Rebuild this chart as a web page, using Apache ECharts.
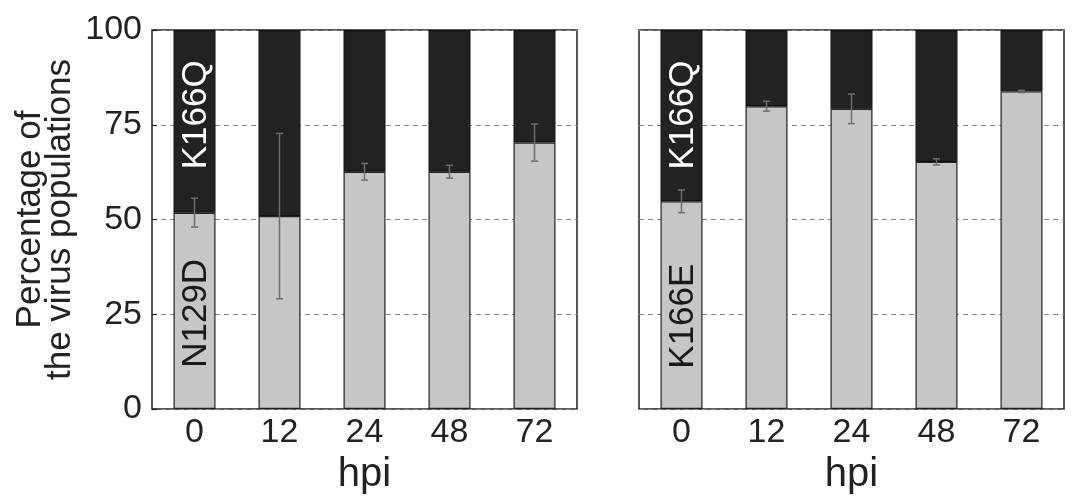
<!DOCTYPE html>
<html><head><meta charset="utf-8">
<script src="https://cdn.jsdelivr.net/npm/echarts@6/dist/echarts.min.js"></script>
<style>html,body{margin:0;padding:0;background:#fff}#c{width:1072px;height:500px}</style>
</head><body><div id="c"></div>
<script>
const categories = ['0', '12', '24', '48', '72'];
const yTicks = [0, 25, 50, 75, 100];
// Left panel: N129D (grey, bottom) vs K166Q (dark, top)
const leftLower = [51.8, 50.9, 62.6, 62.6, 70.3];
const leftErr = [3.8, 21.8, 2.2, 1.7, 4.9];
// Right panel: K166E (grey, bottom) vs K166Q (dark, top)
const rightLower = [54.8, 79.9, 79.2, 65.2, 83.8];
const rightErr = [3.0, 1.3, 3.9, 0.8, 0.3];
const leftLowerName = 'N129D';
const rightLowerName = 'K166E';
const upperName = 'K166Q';

const FONT = '"Liberation Sans", Arial, sans-serif';
const GREY = '#c6c6c6', DARK = '#222222';

function yAxis(idx, showLabels) {
  return {
    type: 'value', gridIndex: idx, min: 0, max: 100, interval: 25,
    axisLine: { show: false },
    axisTick: { show: showLabels, inside: true, length: 5, lineStyle: { color: '#222', width: 1.2 } },
    axisLabel: { show: showLabels, fontSize: 34, color: '#222', fontFamily: FONT, margin: 10,
      formatter: v => yTicks.includes(v) ? String(v) : '' },
    splitLine: { show: true, lineStyle: { color: '#8a8a8a', type: [5, 4], width: 1.2 } },
    name: showLabels ? 'Percentage of\nthe virus populations' : '',
    nameLocation: 'middle', nameGap: 77,
    nameTextStyle: { fontSize: 35, lineHeight: 30, color: '#222', fontFamily: FONT }
  };
}
function xAxis(idx) {
  return {
    type: 'category', gridIndex: idx, data: categories,
    axisLine: { show: false }, axisTick: { show: false },
    axisLabel: { fontSize: 34, color: '#222', fontFamily: FONT, margin: 7 },
    name: 'hpi', nameLocation: 'middle', nameGap: 46,
    nameTextStyle: { fontSize: 40, color: '#222', fontFamily: FONT }
  };
}
function lowerSeries(idx, data, label, off) {
  return {
    type: 'bar', xAxisIndex: idx, yAxisIndex: idx, stack: 's' + idx, barWidth: 42,
    itemStyle: { color: GREY, borderColor: '#222', borderWidth: 1.2 },
    data: data.map((v, i) => i === 0 ? {
      value: v,
      label: { show: true, position: 'inside', rotate: 90, formatter: label, fontSize: 35,
        color: '#1a1a1a', fontFamily: FONT, offset: off }
    } : v)
  };
}
function upperSeries(idx, lower, off) {
  return {
    type: 'bar', xAxisIndex: idx, yAxisIndex: idx, stack: 's' + idx, barWidth: 42,
    itemStyle: { color: DARK, borderColor: '#111', borderWidth: 1.2 },
    data: lower.map((v, i) => i === 0 ? {
      value: +(100 - v).toFixed(2),
      label: { show: true, position: 'inside', rotate: 90, formatter: upperName, fontSize: 35,
        color: '#ffffff', fontFamily: FONT, offset: off }
    } : +(100 - v).toFixed(2))
  };
}
function errSeries(idx, lower, err) {
  return {
    type: 'custom', xAxisIndex: idx, yAxisIndex: idx, z: 10,
    data: lower.map((v, i) => [i, v - err[i], v + err[i]]),
    encode: { x: 0, y: [1, 2] },
    renderItem: function (params, api) {
      const lo = api.coord([api.value(0), api.value(1)]);
      const hi = api.coord([api.value(0), api.value(2)]);
      const hw = 3.5;
      const st = { stroke: '#6e6e6e', lineWidth: 1.5 };
      return { type: 'group', children: [
        { type: 'line', shape: { x1: lo[0], y1: lo[1], x2: hi[0], y2: hi[1] }, style: st },
        { type: 'line', shape: { x1: lo[0] - hw, y1: lo[1], x2: lo[0] + hw, y2: lo[1] }, style: st },
        { type: 'line', shape: { x1: hi[0] - hw, y1: hi[1], x2: hi[0] + hw, y2: hi[1] }, style: st }
      ]};
    }
  };
}

const chart = echarts.init(document.getElementById('c'), null, { renderer: 'canvas' });
chart.setOption({
  animation: false,
  backgroundColor: '#ffffff',
  textStyle: { fontFamily: FONT },
  grid: [
    { left: 152, right: 495, top: 30, bottom: 90, show: true, borderColor: '#222', borderWidth: 1.5 },
    { left: 639, right: 8, top: 30, bottom: 90, show: true, borderColor: '#222', borderWidth: 1.5 }
  ],
  xAxis: [xAxis(0), xAxis(1)],
  yAxis: [yAxis(0, true), yAxis(1, false)],
  series: [
    lowerSeries(0, leftLower, leftLowerName, [-2.5, 1.5]),
    upperSeries(0, leftLower, [6.5, 1.5]),
    errSeries(0, leftLower, leftErr),
    lowerSeries(1, rightLower, rightLowerName, [-11, 1.5]),
    upperSeries(1, rightLower, [0.6, 1.5]),
    errSeries(1, rightLower, rightErr)
  ]
});
</script></body></html>
